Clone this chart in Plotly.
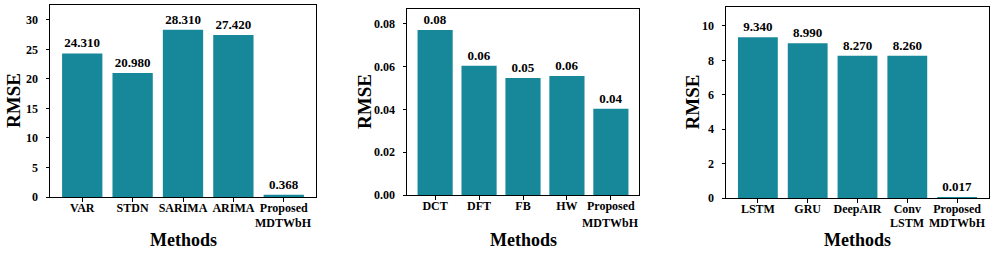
import plotly.graph_objects as go

# Panel 1
methods1 = ["VAR", "STDN", "SARIMA", "ARIMA", "Proposed<br>MDTWbH"]
rmse1 = [24.31, 20.98, 28.31, 27.42, 0.368]
labels1 = ["24.310", "20.980", "28.310", "27.420", "0.368"]
# Panel 2
methods2 = ["DCT", "DFT", "FB", "HW", "Proposed<br>MDTWbH"]
rmse2 = [0.0772, 0.0604, 0.0547, 0.0557, 0.0404]
labels2 = ["0.08", "0.06", "0.05", "0.06", "0.04"]
# Panel 3
methods3 = ["LSTM", "GRU", "DeepAIR", "Conv<br>LSTM", "Proposed<br>MDTWbH"]
rmse3 = [9.34, 8.99, 8.27, 8.26, 0.017]
labels3 = ["9.340", "8.990", "8.270", "8.260", "0.017"]

W, H = 996, 257
FONT = "Liberation Serif"
BAR = "#178899"

panels = [
    dict(m=methods1, v=rmse1, t=labels1, px=(50, 316), py=(5, 197), yr=[0, 32.5],
         dt=5, fmt="", tx=14),
    dict(m=methods2, v=rmse2, t=labels2, px=(407, 639), py=(9, 195), yr=[0, 0.087],
         dt=0.02, fmt=".2f", tx=365),
    dict(m=methods3, v=rmse3, t=labels3, px=(726, 989), py=(7, 198), yr=[0, 11.1],
         dt=2, fmt="", tx=692),
]

fig = go.Figure()
annotations = []
for i, p in enumerate(panels, start=1):
    xs = list(range(len(p["m"])))
    xa = "x" if i == 1 else f"x{i}"
    ya = "y" if i == 1 else f"y{i}"
    fig.add_trace(go.Bar(
        x=xs, y=p["v"], text=p["t"], textposition="outside",
        textfont=dict(family=FONT, size=13, color="black", weight="bold"),
        marker=dict(color=BAR, line=dict(width=0)), width=0.8,
        cliponaxis=False, constraintext="none", xaxis=xa, yaxis=ya,
        showlegend=False, hoverinfo="skip"))
    x0, x1 = p["px"]
    y0, y1 = p["py"]
    xdom = [x0 / W, x1 / W]
    ydom = [1 - y1 / H, 1 - y0 / H]
    first_lines = [m.split("<br>")[0] for m in p["m"]]
    axcommon = dict(showline=True, mirror=True, linecolor="black", linewidth=1,
                    ticks="outside", ticklen=3.5, tickcolor="black", tickwidth=1,
                    showgrid=False, zeroline=False, automargin=False)
    fig.update_layout(**{
        ("xaxis" if i == 1 else f"xaxis{i}"): dict(
            domain=xdom, range=[-0.64, 4.64], tickvals=xs, ticktext=first_lines,
            anchor=ya, tickangle=0, ticklabelstandoff=-4,
            tickfont=dict(family=FONT, size=12, color="black", weight="bold"),
            **axcommon),
        ("yaxis" if i == 1 else f"yaxis{i}"): dict(
            domain=ydom, range=p["yr"], dtick=p["dt"], tick0=0, tickformat=p["fmt"],
            anchor=xa, ticklabelstandoff=5,
            tickfont=dict(family=FONT, size=12, color="black", weight="bold"),
            **axcommon),
    })
    # second lines of two-line category labels
    for xi, m in zip(xs, p["m"]):
        parts = m.split("<br>")
        if len(parts) > 1:
            annotations.append(dict(
                text=parts[1], x=xi, xref=xa, y=1 - 223 / H, yref="paper",
                showarrow=False, xanchor="center", yanchor="middle",
                font=dict(family=FONT, size=12, color="black", weight="bold")))
    annotations.append(dict(
        text="RMSE", x=p["tx"] / W, y=1 - ((y0 + y1) / 2) / H,
        xref="paper", yref="paper", showarrow=False, textangle=-90,
        font=dict(family=FONT, size=19, color="black", weight="bold"),
        xanchor="center", yanchor="middle"))
    annotations.append(dict(
        text="Methods", x=((x0 + x1) / 2) / W, y=1 - 240 / H,
        xref="paper", yref="paper", showarrow=False,
        font=dict(family=FONT, size=18, color="black", weight="bold"),
        xanchor="center", yanchor="middle"))

fig.update_layout(template="none", width=W, height=H,
                  margin=dict(l=0, r=0, t=0, b=0, pad=0),
                  plot_bgcolor="white", paper_bgcolor="white",
                  annotations=annotations, bargap=0.2)
fig.write_html("out.html", config={"displayModeBar": False},
               post_script="document.body.style.margin='0';document.body.style.overflow='hidden';")
